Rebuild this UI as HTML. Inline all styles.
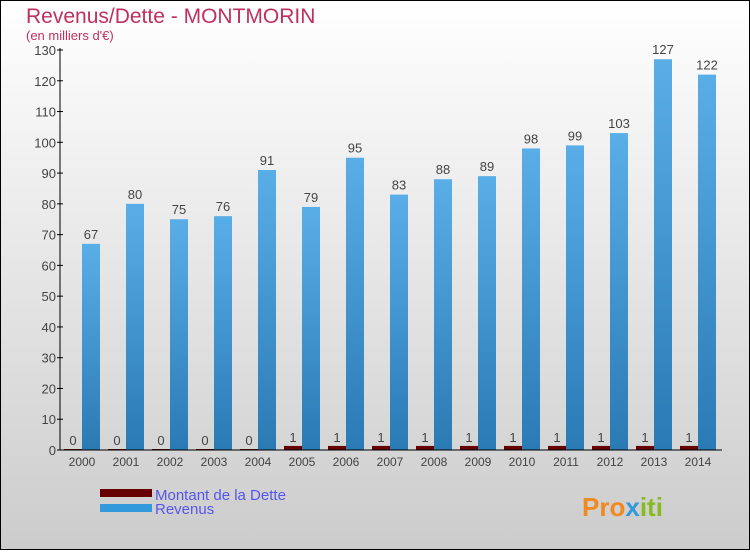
<!DOCTYPE html>
<html><head><meta charset="utf-8"><style>
body{margin:0}
#c{width:750px;height:550px;position:relative;font-family:"Liberation Sans",sans-serif}
</style></head><body>
<div id="c">
<svg id="s" width="750" height="550" xmlns="http://www.w3.org/2000/svg">
<defs>
<linearGradient id="bg" x1="0" y1="0" x2="0" y2="1"><stop offset="0" stop-color="#ffffff"/><stop offset="1" stop-color="#cccccc"/></linearGradient>
<linearGradient id="rv" x1="0" y1="0" x2="0" y2="1"><stop offset="0" stop-color="#5aaee8"/><stop offset="1" stop-color="#2a7ab4"/></linearGradient>
</defs>
<rect x="0.5" y="0.5" width="749" height="549" fill="url(#bg)" stroke="#000"/>
<text x="26" y="23" font-size="21" fill="#c0305f">Revenus/Dette - MONTMORIN</text>
<text x="26" y="40" font-size="13" fill="#c0305f">(en milliers d'€)</text>
<g id="g"></g>
<rect x="100" y="489" width="52" height="8" fill="#660000"/>
<text x="155" y="500" font-size="15" fill="#5555ee">Montant de la Dette</text>
<rect x="100" y="504" width="52" height="8" fill="#3399dd"/>
<text x="155" y="514" font-size="15" fill="#5555ee">Revenus</text>
<text x="582" y="516" font-size="26" font-weight="bold" fill="#f08a20">Pro<tspan fill="#3399dd">x</tspan><tspan fill="#88bb22">iti</tspan></text>
</svg></div>
<script>
const years=["2000","2001","2002","2003","2004","2005","2006","2007","2008","2009","2010","2011","2012","2013","2014"];
const debt=[0,0,0,0,0,1,1,1,1,1,1,1,1,1,1];
const revenue=[67,80,75,76,91,79,95,83,88,89,98,99,103,127,122];
const ticks=[0,10,20,30,40,50,60,70,80,90,100,110,120,130];
const NS="http://www.w3.org/2000/svg",g=document.getElementById('g');
const y=v=>450-v*400/130, x0=i=>62+44*i;
function el(t,a,txt){const e=document.createElementNS(NS,t);for(const k in a)e.setAttribute(k,a[k]);if(txt!==undefined)e.textContent=txt;g.appendChild(e);return e;}
ticks.forEach(t=>{
 let l=el('line',{x1:57,x2:63,y1:y(t),y2:y(t),stroke:'#000'});
 
 let tx=el('text',{x:56,y:y(t)+5,'font-size':13,fill:'#444','text-anchor':'end'},t);
 
});
years.forEach((yr,i)=>{
 const xs=x0(i);
 let d=el('rect',{x:xs+2,y:y(debt[i])-1,width:18,height:450-y(debt[i])+1,fill:'#660000'});
 
 let r=el('rect',{x:xs+20,y:y(revenue[i]),width:18,height:450-y(revenue[i]),fill:'url(#rv)'});
 
 let dl=el('text',{x:xs+11,y:y(debt[i])-5,'font-size':13,fill:'#444','text-anchor':'middle'},debt[i]);
 
 let rl=el('text',{x:xs+29,y:y(revenue[i])-5,'font-size':13,fill:'#444','text-anchor':'middle'},revenue[i]);
 
 let xl=el('text',{x:xs+20,y:466,'font-size':12,fill:'#444','text-anchor':'middle'},yr);
 
});
let ax=el('line',{x1:60,x2:60,y1:48,y2:450,stroke:'#000'});

let bx=el('line',{x1:57,x2:722,y1:450,y2:450,stroke:'#000'});

</script>
</body></html>
